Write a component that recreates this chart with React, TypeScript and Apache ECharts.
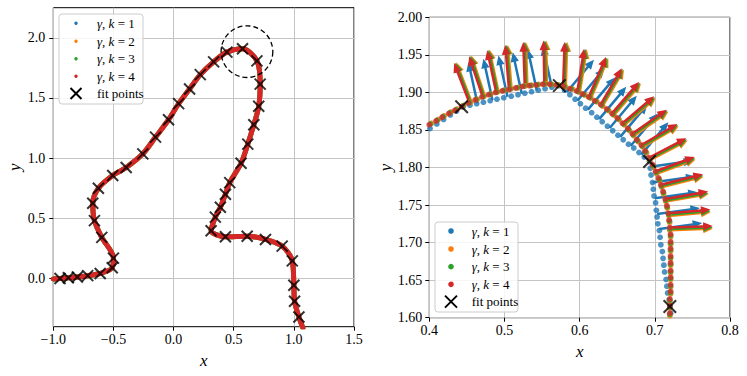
import React, { useEffect, useRef } from "react";
import * as echarts from "echarts";

// ---------- data ----------
// fit points along the whole curve (left panel)
const fitPoints: [number, number][] = [
  [-0.944, 0.0], [-0.875, 0.006], [-0.8, 0.013], [-0.714, 0.024], [-0.61, 0.042],
  [-0.51, 0.09], [-0.5, 0.17], [-0.597, 0.342], [-0.658, 0.481], [-0.672, 0.625],
  [-0.625, 0.75], [-0.506, 0.856], [-0.394, 0.922], [-0.256, 1.036], [-0.15, 1.175],
  [-0.042, 1.319], [0.042, 1.453], [0.133, 1.575], [0.222, 1.694], [0.333, 1.8],
  [0.443, 1.881], [0.573, 1.909], [0.693, 1.808], [0.72, 1.615], [0.708, 1.431],
  [0.667, 1.278], [0.617, 1.117], [0.561, 0.958], [0.467, 0.797], [0.431, 0.7],
  [0.389, 0.592], [0.347, 0.51], [0.312, 0.397], [0.431, 0.347], [0.612, 0.352],
  [0.764, 0.325], [0.903, 0.269], [0.987, 0.147], [1.0, -0.056], [1.006, -0.189],
  [1.042, -0.32], [1.075, -0.41],
];
// start of the sampled curve at the left edge
const curveLead: [number, number] = [-1.0, -0.003];

// right panel: sampled points of each curve
const dotsK1: [number, number][] = [
  [0.401, 1.852], [0.41, 1.858], [0.419, 1.864], [0.428, 1.87], [0.436, 1.875],
  [0.445, 1.881], [0.454, 1.883], [0.463, 1.885], [0.472, 1.887], [0.481, 1.889],
  [0.49, 1.891], [0.499, 1.893], [0.509, 1.895], [0.518, 1.897], [0.527, 1.899],
  [0.536, 1.901], [0.545, 1.903], [0.554, 1.905], [0.563, 1.907], [0.572, 1.909],
  [0.58, 1.903], [0.587, 1.897], [0.594, 1.891], [0.601, 1.885], [0.608, 1.879],
  [0.616, 1.873], [0.623, 1.867], [0.63, 1.861], [0.637, 1.855], [0.644, 1.849],
  [0.651, 1.843], [0.658, 1.837], [0.665, 1.831], [0.672, 1.826], [0.679, 1.82],
  [0.686, 1.814], [0.693, 1.808], [0.694, 1.799], [0.695, 1.79], [0.697, 1.78],
  [0.698, 1.771], [0.699, 1.762], [0.701, 1.753], [0.702, 1.743], [0.703, 1.734],
  [0.704, 1.725], [0.706, 1.716], [0.707, 1.707], [0.708, 1.697], [0.71, 1.688],
  [0.711, 1.679], [0.712, 1.67], [0.713, 1.661], [0.715, 1.651], [0.716, 1.642],
  [0.717, 1.633], [0.719, 1.624], [0.72, 1.615], [0.721, 1.606], [0.722, 1.597],
];
const dotsK2: [number, number][] = [
  [0.403, 1.859], [0.412, 1.864], [0.42, 1.869], [0.429, 1.874], [0.437, 1.878], [0.446, 1.883],
  [0.455, 1.887], [0.464, 1.891], [0.473, 1.895], [0.482, 1.898], [0.491, 1.901], [0.5, 1.903], [0.509, 1.905],
  [0.5185, 1.9065], [0.5275, 1.9085], [0.5365, 1.9095], [0.5455, 1.9105], [0.5545, 1.9115],
  [0.5635, 1.9105], [0.5725, 1.9095], [0.5815, 1.9075], [0.5905, 1.9045],
  [0.599, 1.9004], [0.607, 1.8964], [0.615, 1.8924], [0.623, 1.8874],
  [0.6307, 1.8817], [0.6387, 1.8757], [0.6457, 1.8697], [0.6527, 1.8637], [0.6597, 1.8567],
  [0.6661, 1.8492], [0.6721, 1.8422], [0.6781, 1.8342], [0.6841, 1.8272], [0.6891, 1.8192],
  [0.6933, 1.8097], [0.6983, 1.8007], [0.7023, 1.7917], [0.7063, 1.7827], [0.7093, 1.7737],
  [0.7117, 1.7646], [0.7147, 1.7546], [0.7167, 1.7456], [0.7187, 1.7356], [0.7197, 1.7266],
  [0.72, 1.7165], [0.721, 1.7075], [0.721, 1.6975], [0.721, 1.6885], [0.721, 1.6785], [0.721, 1.6695],
  [0.721, 1.6595], [0.721, 1.6505], [0.721, 1.6405], [0.721, 1.6315], [0.72, 1.6215], [0.72, 1.6125],
  [0.72, 1.6025], [0.72, 1.5935],
];
const dotsK3: [number, number][] = [
  [0.4015, 1.858], [0.4105, 1.863], [0.4185, 1.868], [0.4275, 1.873], [0.4355, 1.877], [0.4445, 1.882],
  [0.4536, 1.8866], [0.4626, 1.8906], [0.4716, 1.8946], [0.4806, 1.8976], [0.4896, 1.9006], [0.4986, 1.9026], [0.5076, 1.9046],
  [0.5168, 1.9063], [0.5258, 1.9083], [0.5348, 1.9093], [0.5438, 1.9103], [0.5528, 1.9113],
  [0.5618, 1.9107], [0.5708, 1.9097], [0.5798, 1.9077], [0.5888, 1.9047],
  [0.5976, 1.9012], [0.6056, 1.8972], [0.6136, 1.8932], [0.6216, 1.8882],
  [0.6294, 1.8828], [0.6374, 1.8768], [0.6444, 1.8708], [0.6514, 1.8648], [0.6584, 1.8578],
  [0.6651, 1.8506], [0.6711, 1.8436], [0.6771, 1.8356], [0.6831, 1.8286], [0.6881, 1.8206],
  [0.6927, 1.8113], [0.6977, 1.8023], [0.7017, 1.7933], [0.7057, 1.7843], [0.7087, 1.7753],
  [0.7114, 1.7663], [0.7144, 1.7563], [0.7164, 1.7473], [0.7184, 1.7373], [0.7194, 1.7283],
  [0.72, 1.7182], [0.721, 1.7092], [0.721, 1.6992], [0.721, 1.6902], [0.721, 1.6802], [0.721, 1.6712],
  [0.721, 1.6612], [0.721, 1.6522], [0.721, 1.6422], [0.721, 1.6332], [0.72, 1.6232], [0.72, 1.6142],
  [0.72, 1.6042], [0.72, 1.5952],
];
const dotsK4: [number, number][] = [
  [0.4, 1.857], [0.409, 1.862], [0.417, 1.867], [0.426, 1.872], [0.434, 1.876], [0.443, 1.881],
  [0.452, 1.886], [0.461, 1.89], [0.47, 1.894], [0.479, 1.897], [0.488, 1.9], [0.497, 1.902], [0.506, 1.904],
  [0.515, 1.906], [0.524, 1.908], [0.533, 1.909], [0.542, 1.91], [0.551, 1.911],
  [0.56, 1.911], [0.569, 1.91], [0.578, 1.908], [0.587, 1.905],
  [0.596, 1.902], [0.604, 1.898], [0.612, 1.894], [0.62, 1.889],
  [0.628, 1.884], [0.636, 1.878], [0.643, 1.872], [0.65, 1.866], [0.657, 1.859],
  [0.664, 1.852], [0.67, 1.845], [0.676, 1.837], [0.682, 1.83], [0.687, 1.822],
  [0.692, 1.813], [0.697, 1.804], [0.701, 1.795], [0.705, 1.786], [0.708, 1.777],
  [0.711, 1.768], [0.714, 1.758], [0.716, 1.749], [0.718, 1.739], [0.719, 1.73],
  [0.72, 1.72], [0.721, 1.711], [0.721, 1.701], [0.721, 1.692], [0.721, 1.682], [0.721, 1.673],
  [0.721, 1.663], [0.721, 1.654], [0.721, 1.644], [0.721, 1.635], [0.72, 1.625], [0.72, 1.616],
  [0.72, 1.606], [0.72, 1.597],
];
// right-panel fit points
const fitPointsZoom: [number, number][] = [
  [0.443, 1.881], [0.573, 1.909], [0.693, 1.808], [0.72, 1.615],
];

// normal vectors: [x tail, y tail, x head, y head]
const arrowsK1: number[][] = [
  [0.464, 1.8855, 0.452, 1.9405], [0.484, 1.8898, 0.472, 1.9448], [0.504, 1.8941, 0.492, 1.9491],
  [0.523, 1.8983, 0.511, 1.9533], [0.543, 1.9025, 0.531, 1.9575], [0.563, 1.9068, 0.551, 1.9618],
  [0.583, 1.9006, 0.619, 1.9436], [0.597, 1.8888, 0.633, 1.9318], [0.611, 1.877, 0.647, 1.92],
  [0.626, 1.8644, 0.662, 1.9074], [0.64, 1.8526, 0.676, 1.8956], [0.654, 1.8408, 0.69, 1.8838],
  [0.668, 1.829, 0.704, 1.872], [0.682, 1.8172, 0.718, 1.8602],
  [0.694, 1.801, 0.751, 1.809], [0.697, 1.78, 0.754, 1.788], [0.7, 1.759, 0.757, 1.767],
  [0.703, 1.738, 0.76, 1.746], [0.706, 1.718, 0.763, 1.726],
];
const arrowsK2: number[][] = [
  [0.456, 1.888, 0.436, 1.94], [0.474, 1.895, 0.456, 1.949], [0.492, 1.901, 0.48, 1.957],
  [0.5095, 1.904, 0.5045, 1.963], [0.5305, 1.908, 0.5285, 1.967], [0.5565, 1.911, 0.5555, 1.969],
  [0.5815, 1.908, 0.5835, 1.967], [0.6005, 1.9014, 0.6095, 1.9574], [0.6152, 1.8926, 0.6382, 1.9456],
  [0.631, 1.8823, 0.659, 1.9303], [0.6457, 1.8697, 0.6817, 1.9117], [0.6593, 1.8563, 0.7013, 1.8923],
  [0.672, 1.8421, 0.718, 1.8741], [0.6838, 1.827, 0.7318, 1.855], [0.6936, 1.8099, 0.7436, 1.8359],
  [0.7022, 1.7917, 0.7542, 1.8107], [0.7088, 1.7736, 0.7648, 1.7876], [0.7146, 1.7546, 0.7716, 1.7646],
  [0.7183, 1.7355, 0.7743, 1.7405], [0.7201, 1.7165, 0.7771, 1.7185],
];
const arrowsK3: number[][] = [
  [0.4547, 1.8876, 0.4347, 1.9396], [0.4727, 1.8946, 0.4547, 1.9486], [0.4908, 1.9004, 0.4788, 1.9564],
  [0.5078, 1.9041, 0.5028, 1.9631], [0.5288, 1.9081, 0.5268, 1.9671], [0.5548, 1.911, 0.5538, 1.969],
  [0.5798, 1.9079, 0.5818, 1.9669], [0.5988, 1.9017, 0.6078, 1.9577], [0.6137, 1.8933, 0.6367, 1.9463],
  [0.6295, 1.8831, 0.6575, 1.9311], [0.6444, 1.8708, 0.6804, 1.9128], [0.6582, 1.8576, 0.7002, 1.8936],
  [0.671, 1.8435, 0.717, 1.8755], [0.6829, 1.8285, 0.7309, 1.8565], [0.6928, 1.8114, 0.7428, 1.8374],
  [0.7016, 1.7933, 0.7536, 1.8123], [0.7084, 1.7753, 0.7644, 1.7893], [0.7143, 1.7562, 0.7713, 1.7662],
  [0.7182, 1.7372, 0.7742, 1.7422], [0.7201, 1.7182, 0.7771, 1.7202],
];
const arrowsK4: number[][] = [
  [0.453, 1.887, 0.433, 1.939], [0.471, 1.894, 0.453, 1.948], [0.489, 1.9, 0.477, 1.956],
  [0.506, 1.904, 0.501, 1.963], [0.527, 1.908, 0.525, 1.967], [0.553, 1.911, 0.552, 1.969],
  [0.578, 1.908, 0.58, 1.967], [0.597, 1.902, 0.606, 1.958], [0.612, 1.894, 0.635, 1.947],
  [0.628, 1.884, 0.656, 1.932], [0.643, 1.872, 0.679, 1.914], [0.657, 1.859, 0.699, 1.895],
  [0.67, 1.845, 0.716, 1.877], [0.682, 1.83, 0.73, 1.858], [0.692, 1.813, 0.742, 1.839],
  [0.701, 1.795, 0.753, 1.814], [0.708, 1.777, 0.764, 1.791], [0.714, 1.758, 0.771, 1.768],
  [0.718, 1.739, 0.774, 1.744], [0.72, 1.72, 0.777, 1.722],
];

// dashed circle marking the zoom region (data units)
const zoomCircle = { cx: 0.61, cy: 1.885, r: 0.215 };

const seriesNames = ["k = 1", "k = 2", "k = 3", "k = 4"];
const colors = ["#1f77b4", "#ff7f0e", "#2ca02c", "#d62728"];
const leftTicksX = [-1.0, -0.5, 0.0, 0.5, 1.0, 1.5];
const leftTicksY = [0.0, 0.5, 1.0, 1.5, 2.0];

const FONT = "'Liberation Serif', 'DejaVu Serif', serif";
const X_PATH = "path://M0,0L10,10M10,0L0,10";

const fmt = (d: number) => (v: number) => v.toFixed(d).replace("-", "\u2212");

function axisCommon(gridIndex: number) {
  return {
    gridIndex,
    type: "value" as const,
    axisLine: { show: false, onZero: false },
    axisTick: { show: true, inside: false, length: 4, lineStyle: { color: "#000", width: 1 } },
    splitLine: { show: true, lineStyle: { color: "#c4c4c4", width: 1 } },
    nameLocation: "middle" as const,
    nameTextStyle: { fontFamily: FONT, fontStyle: "italic", fontSize: 17, color: "#000" },
  };
}

function arrowRender(color: string) {
  return (_params: any, api: any) => {
    const p0 = api.coord([api.value(0), api.value(1)]);
    const p1 = api.coord([api.value(2), api.value(3)]);
    const dx = p1[0] - p0[0];
    const dy = p1[1] - p0[1];
    const L = Math.hypot(dx, dy) || 1;
    const ux = dx / L, uy = dy / L;
    const nx = -uy, ny = ux;
    const hw = 1.25, hh = 4.2, hl = 9.5;
    const bx = p1[0] - ux * hl, by = p1[1] - uy * hl;
    const pts = [
      [p0[0] + nx * hw, p0[1] + ny * hw],
      [bx + nx * hw, by + ny * hw],
      [bx + nx * hh, by + ny * hh],
      [p1[0], p1[1]],
      [bx - nx * hh, by - ny * hh],
      [bx - nx * hw, by - ny * hw],
      [p0[0] - nx * hw, p0[1] - ny * hw],
    ];
    return { type: "polygon", shape: { points: pts }, style: { fill: color } };
  };
}

export default function App() {
  const ref = useRef<HTMLDivElement>(null);

  useEffect(() => {
    if (!ref.current) return;
    const chart = echarts.init(ref.current, undefined, { renderer: "svg" });
    const curve = [curveLead, ...fitPoints];
    const dots = [dotsK1, dotsK2, dotsK3, dotsK4];
    const arrows = [arrowsK1, arrowsK2, arrowsK3, arrowsK4];

    const series: any[] = [];
    // left panel curves
    series.push({
      type: "line", xAxisIndex: 0, yAxisIndex: 0, name: seriesNames[0], data: curve,
      showSymbol: false, smooth: false, lineStyle: { color: colors[0], width: 1.6 }, clip: true, z: 2,
    });
    for (let k = 1; k < 4; k++) {
      series.push({
        type: "line", xAxisIndex: 0, yAxisIndex: 0, name: seriesNames[k], data: curve,
        showSymbol: false, smooth: 0.3,
        lineStyle: { color: colors[k], width: 5, cap: "round", join: "round" }, clip: true, z: 2,
      });
    }
    series.push({
      type: "scatter", xAxisIndex: 0, yAxisIndex: 0, name: "fit points", data: fitPoints,
      symbol: X_PATH, symbolSize: 11, itemStyle: { color: "transparent", borderColor: "#000", borderWidth: 2 },
      clip: true, z: 3,
    });
    // right panel
    for (let k = 0; k < 4; k++) {
      series.push({
        type: "scatter", xAxisIndex: 1, yAxisIndex: 1, name: seriesNames[k], data: dots[k],
        symbol: "circle", symbolSize: 5.8, itemStyle: { color: colors[k] }, clip: true, z: 2,
      });
      series.push({
        type: "custom", xAxisIndex: 1, yAxisIndex: 1, coordinateSystem: "cartesian2d",
        data: arrows[k], encode: { x: [0, 2], y: [1, 3] }, renderItem: arrowRender(colors[k]),
        silent: true, z: 2,
      });
    }
    series.push({
      type: "scatter", xAxisIndex: 1, yAxisIndex: 1, name: "fit points", data: fitPointsZoom,
      symbol: X_PATH, symbolSize: 12.5, itemStyle: { color: "transparent", borderColor: "#000", borderWidth: 2 },
      clip: true, z: 3,
    });

    chart.setOption({
      animation: false,
      backgroundColor: "#fff",
      grid: [
        { left: 53.3, top: 7.7, width: 300.7, height: 319, show: true, borderColor: "#000", borderWidth: 1, backgroundColor: "#fff" },
        { left: 429.3, top: 17.3, width: 300.7, height: 300.4, show: true, borderColor: "#000", borderWidth: 1, backgroundColor: "#fff" },
      ],
      xAxis: [
        {
          ...axisCommon(0), min: -1.0, max: 1.5, interval: 0.5,
          axisTick: { show: true, inside: false, length: 4, lineStyle: { color: "#000", width: 1 }, customValues: leftTicksX },
          axisLabel: { customValues: leftTicksX, formatter: fmt(1), fontFamily: FONT, fontSize: 14, color: "#000", margin: 6 },
          name: "x", nameGap: 20,
        },
        {
          ...axisCommon(1), min: 0.4, max: 0.8, interval: 0.1,
          axisLabel: { formatter: fmt(1), fontFamily: FONT, fontSize: 14, color: "#000", margin: 6 },
          name: "x", nameGap: 20,
        },
      ],
      yAxis: [
        {
          ...axisCommon(0), min: -0.4, max: 2.25,
          axisTick: { show: true, inside: false, length: 4, lineStyle: { color: "#000", width: 1 }, customValues: leftTicksY },
          axisLabel: { customValues: leftTicksY, formatter: fmt(1), fontFamily: FONT, fontSize: 14, color: "#000", margin: 8 },
          name: "y", nameGap: 30,
        },
        {
          ...axisCommon(1), min: 1.6, max: 2.0, interval: 0.05,
          axisLabel: { formatter: fmt(2), fontFamily: FONT, fontSize: 14, color: "#000", margin: 7 },
          name: "y", nameGap: 34,
        },
      ],
      series,
    });

    // legend & zoom circle
    const c = chart.convertToPixel({ xAxisIndex: 0, yAxisIndex: 0 } as any, [zoomCircle.cx, zoomCircle.cy]) as number[];
    const e = chart.convertToPixel({ xAxisIndex: 0, yAxisIndex: 0 } as any, [zoomCircle.cx + zoomCircle.r, zoomCircle.cy]) as number[];
    const rpx = Math.abs(e[0] - c[0]);

    const legend = (x: number, y: number, w: number, h: number, rows: number[], mx: number, tx: number, dotR: number, xs: number) => {
      const els: any[] = [
        { type: "rect", shape: { x, y, width: w, height: h, r: 3 }, style: { fill: "rgba(255,255,255,0.85)", stroke: "#cccccc", lineWidth: 1 }, z: 100 },
      ];
      for (let k = 0; k < 4; k++) {
        els.push({ type: "circle", shape: { cx: mx, cy: rows[k], r: dotR }, style: { fill: colors[k] }, z: 101 });
        els.push({
          type: "text", x: tx, y: rows[k], z: 101,
          style: {
            text: `{i|\u03b3}, {i|k} = ${k + 1}`,
            rich: { i: { fontStyle: "italic", fontFamily: FONT, fontSize: 13 } },
            fontFamily: FONT, fontSize: 13, fill: "#000", verticalAlign: "middle", align: "left",
          },
        });
      }
      const yy = rows[4];
      els.push({ type: "line", shape: { x1: mx - xs / 2, y1: yy - xs / 2, x2: mx + xs / 2, y2: yy + xs / 2 }, style: { stroke: "#000", lineWidth: 1.9 }, z: 101 });
      els.push({ type: "line", shape: { x1: mx - xs / 2, y1: yy + xs / 2, x2: mx + xs / 2, y2: yy - xs / 2 }, style: { stroke: "#000", lineWidth: 1.9 }, z: 101 });
      els.push({
        type: "text", x: tx, y: yy, z: 101,
        style: { text: "fit points", fontFamily: FONT, fontSize: 13, fill: "#000", verticalAlign: "middle", align: "left" },
      });
      return els;
    };

    chart.setOption({
      graphic: {
        elements: [
          { type: "circle", shape: { cx: c[0], cy: c[1], r: rpx }, style: { fill: "none", stroke: "#000", lineWidth: 1.3, lineDash: [5, 3] }, z: 90 },
          ...legend(59, 14, 84, 90, [23.3, 41.3, 58.7, 76.3, 93.5], 76, 97, 1.7, 11),
          ...legend(435, 222, 83, 90, [231, 249, 266.7, 284.3, 301.7], 451, 471.7, 2.8, 12),
        ],
      },
    });

    return () => chart.dispose();
  }, []);

  return (
    <div
      ref={ref}
      style={{ position: "absolute", left: 0, top: 0, width: 747, height: 376 }}
    />
  );
}
